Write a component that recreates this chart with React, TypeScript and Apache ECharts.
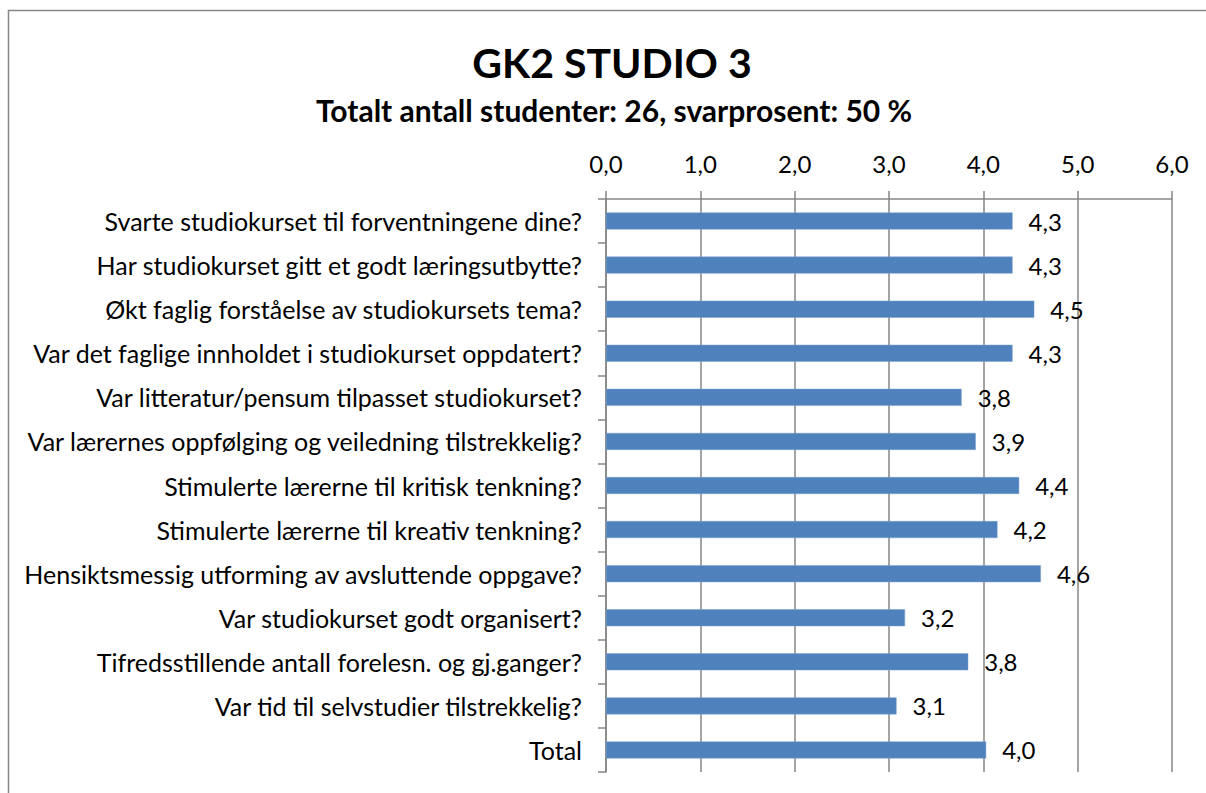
import React, { useEffect, useRef } from "react";
import * as echarts from "echarts";

const titleText = "GK2 STUDIO 3";
const subtitleText = "Totalt antall studenter: 26, svarprosent: 50 %";

const categories = [
  "Svarte studiokurset til forventningene dine?",
  "Har studiokurset gitt et godt læringsutbytte?",
  "Økt faglig forståelse av studiokursets tema?",
  "Var det faglige innholdet i studiokurset oppdatert?",
  "Var litteratur/pensum tilpasset studiokurset?",
  "Var lærernes oppfølging og veiledning tilstrekkelig?",
  "Stimulerte lærerne til kritisk tenkning?",
  "Stimulerte lærerne til kreativ tenkning?",
  "Hensiktsmessig utforming av avsluttende oppgave?",
  "Var studiokurset godt organisert?",
  "Tifredsstillende antall forelesn. og gj.ganger?",
  "Var tid til selvstudier tilstrekkelig?",
  "Total",
];

const values = [4.31, 4.31, 4.54, 4.31, 3.77, 3.92, 4.38, 4.15, 4.61, 3.17, 3.84, 3.08, 4.03];

const axisMin = 0;
const axisMax = 6;
const axisInterval = 1;

const FONT = "Lato";
const fmt = (v: number) => v.toFixed(1).replace(".", ",");

export default function App() {
  const ref = useRef<HTMLDivElement>(null);
  useEffect(() => {
    if (!ref.current) return;
    const chart = echarts.init(ref.current, undefined, { renderer: "svg" });
    chart.setOption({
      animation: false,
      backgroundColor: "#ffffff",
      textStyle: { fontFamily: FONT },
      graphic: [
        {
          type: "rect",
          shape: { x: 8.5, y: 10.5, width: 1250, height: 850 },
          style: { fill: "none", stroke: "#868686", lineWidth: 1.5 },
          silent: true,
        },
        {
          type: "text",
          x: 612,
          y: 62,
          style: {
            text: titleText,
            fontFamily: FONT,
            fontWeight: "bold",
            fontSize: 41,
            fill: "#000",
            align: "center",
            verticalAlign: "middle",
          },
        },
        {
          type: "text",
          x: 614,
          y: 110,
          style: {
            text: subtitleText,
            fontFamily: FONT,
            fontWeight: "bold",
            fontSize: 30,
            fill: "#000",
            align: "center",
            verticalAlign: "middle",
          },
        },
      ],
      grid: { left: 606, top: 199, width: 566, height: 573, containLabel: false },
      xAxis: {
        type: "value",
        position: "top",
        min: axisMin,
        max: axisMax,
        interval: axisInterval,
        axisLine: { show: true, lineStyle: { color: "#868686", width: 1.5 } },
        axisTick: { show: true, inside: false, length: 8, lineStyle: { color: "#868686", width: 1.5 } },
        splitLine: { show: true, lineStyle: { color: "#868686", width: 1.5 } },
        axisLabel: {
          formatter: (v: number) => fmt(v),
          color: "#000",
          fontSize: 24,
          fontFamily: FONT,
          margin: 24,
        },
      },
      yAxis: {
        type: "category",
        inverse: true,
        data: categories,
        axisLine: { show: true, lineStyle: { color: "#868686", width: 1.5 } },
        axisTick: { show: true, inside: false, length: 8, lineStyle: { color: "#868686", width: 1.5 } },
        axisLabel: {
          color: "#000",
          fontSize: 25,
          fontFamily: FONT,
          margin: 24,
        },
      },
      series: [
        {
          type: "bar",
          data: values,
          barWidth: 17,
          itemStyle: { color: "#4F81BD", borderColor: "#7BA0CD", borderWidth: 0.5 },
          label: {
            show: true,
            position: "right",
            distance: 16,
            formatter: (p: any) => fmt(p.value),
            color: "#000",
            fontSize: 24,
            fontFamily: FONT,
          },
        },
      ],
    });
    return () => chart.dispose();
  }, []);
  return (
    <div
      ref={ref}
      style={{ position: "fixed", left: 0, top: 0, width: 1206, height: 793 }}
    />
  );
}
